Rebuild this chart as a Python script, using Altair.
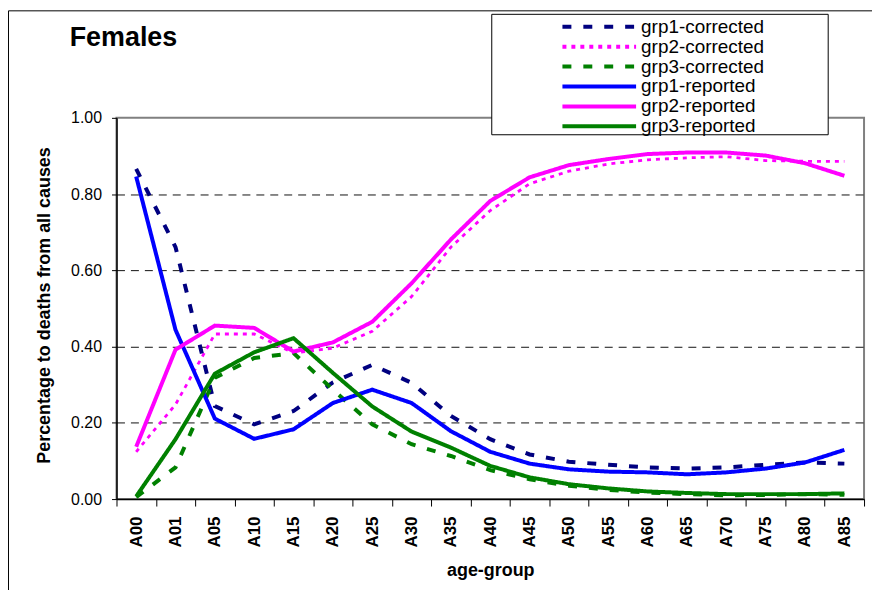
import altair as alt
import pandas as pd

ages = ["A00", "A01", "A05", "A10", "A15", "A20", "A25", "A30", "A35", "A40",
        "A45", "A50", "A55", "A60", "A65", "A70", "A75", "A80", "A85"]
series = ["grp1-corrected", "grp2-corrected", "grp3-corrected",
          "grp1-reported", "grp2-reported", "grp3-reported"]

grp1_corrected = [0.866, 0.661, 0.244, 0.196, 0.231, 0.306, 0.352, 0.305, 0.218, 0.157,
                  0.117, 0.098, 0.090, 0.083, 0.080, 0.083, 0.090, 0.096, 0.093]
grp2_corrected = [0.124, 0.248, 0.433, 0.433, 0.383, 0.396, 0.440, 0.531, 0.661, 0.757,
                  0.827, 0.860, 0.879, 0.890, 0.895, 0.898, 0.888, 0.886, 0.886]
grp3_corrected = [0.005, 0.083, 0.318, 0.370, 0.383, 0.287, 0.196, 0.144, 0.113, 0.076,
                  0.052, 0.035, 0.024, 0.017, 0.013, 0.010, 0.011, 0.013, 0.011]
grp1_reported = [0.846, 0.444, 0.211, 0.158, 0.183, 0.252, 0.287, 0.252, 0.178, 0.124,
                 0.093, 0.078, 0.072, 0.070, 0.065, 0.070, 0.080, 0.096, 0.129]
grp2_reported = [0.137, 0.392, 0.455, 0.449, 0.387, 0.411, 0.465, 0.566, 0.681, 0.782,
                 0.844, 0.876, 0.892, 0.905, 0.909, 0.909, 0.901, 0.881, 0.848]
grp3_reported = [0.007, 0.157, 0.329, 0.385, 0.422, 0.331, 0.243, 0.177, 0.135, 0.087,
                 0.057, 0.039, 0.028, 0.020, 0.016, 0.013, 0.013, 0.013, 0.015]

y_ticks = [0.0, 0.2, 0.4, 0.6, 0.8, 1.0]
chart_title = "Females"

all_values = [grp1_corrected, grp2_corrected, grp3_corrected,
              grp1_reported, grp2_reported, grp3_reported]
rows = []
for name, vals in zip(series, all_values):
    for a, v in zip(ages, vals):
        rows.append({"age": a, "series": name, "value": v})
df = pd.DataFrame(rows)

colors = ["#000080", "#FF00FF", "#008000", "#0000FF", "#FF00FF", "#008000"]
dashes = [[9, 12], [4, 5], [9, 12], [1, 0], [1, 0], [1, 0]]

FONT = "Liberation Sans"

x_enc = alt.X(
    "age:N", sort=ages,
    scale=alt.Scale(type="band", paddingInner=0, paddingOuter=0),
    axis=alt.Axis(
        title="age-group", labelAngle=270, labelAlign="right", labelBaseline="middle",
        labelFont=FONT, labelFontSize=17, labelFontWeight="bold", labelColor="black",
        labelPadding=10, tickSize=7, tickBand="extent", tickColor="black",
        domainColor="black", domainWidth=1.5, grid=False,
        titleFont=FONT, titleFontSize=18, titleFontWeight="bold", titleColor="black",
        titleX=375.5, titleY=72, titleBaseline="middle", titleAlign="center",
    ),
)
y_enc = alt.Y(
    "value:Q", scale=alt.Scale(domain=[0, 1]),
    axis=alt.Axis(
        title="Percentage to deaths from all causes", values=y_ticks, format=".2f",
        labelFont=FONT, labelFontSize=16, labelColor="black", labelPadding=10,
        tickSize=5, tickColor="black", domainColor="black", domainWidth=1.5,
        grid=True, gridColor="#111111", gridDash=[8, 6], gridWidth=1,
        gridOpacity={"condition": {"test": "datum.value >= 1 || datum.value <= 0", "value": 0}, "value": 1},
        titleFont=FONT, titleFontSize=18, titleFontWeight="bold", titleColor="black",
        titleAngle=270, titleX=-72, titleY=188, titleBaseline="middle", titleAlign="center",
    ),
)
color_enc = alt.Color("series:N", sort=series,
                      scale=alt.Scale(domain=series, range=colors),
                      legend=alt.Legend(title=None))
dash_enc = alt.StrokeDash("series:N", sort=series,
                          scale=alt.Scale(domain=series, range=dashes),
                          legend=alt.Legend(title=None))

base = alt.Chart(df).encode(x=x_enc, y=y_enc, color=color_enc, strokeDash=dash_enc)

lines_main = base.transform_filter(
    alt.datum.series != "grp2-corrected"
).mark_line(strokeWidth=4, strokeCap="butt")
lines_dot = base.transform_filter(
    alt.datum.series == "grp2-corrected"
).mark_line(strokeWidth=2.8, strokeCap="butt")

deco = pd.DataFrame({"k": [0]})
frame = alt.Chart(deco).mark_rect(fillOpacity=0, stroke="black", strokeWidth=1).encode(
    x=alt.value(-108.5), x2=alt.value(760.5), y=alt.value(-107.5), y2=alt.value(560)
)
legend_box = alt.Chart(deco).mark_rect(fill="white", stroke="black", strokeWidth=1).encode(
    x=alt.value(377), x2=alt.value(715), y=alt.value(-104), y2=alt.value(17)
)
title_text = alt.Chart(deco).mark_text(
    text=chart_title, font=FONT, fontSize=27, fontWeight="bold", color="black",
    align="left", baseline="alphabetic"
).encode(x=alt.value(-47), y=alt.value(-72))

chart = alt.layer(frame, lines_dot, lines_main, legend_box, title_text).properties(
    width=751, height=383,
    autosize=alt.AutoSizeParams(type="none"),
    padding={"left": 109, "top": 109, "right": 8, "bottom": 90},
).configure_view(
    stroke="#808080", strokeWidth=2
).configure_legend(
    orient="none", legendX=446, legendY=-101, symbolType="stroke",
    symbolSize=5476, clipHeight=19, labelOffset=3, labelFont=FONT, labelFontSize=19,
    labelColor="black", symbolStrokeWidth=4, rowPadding=-1, padding=0, labelLimit=0,
)

chart.save("out.html", embed_options={"renderer": "svg", "actions": False})
